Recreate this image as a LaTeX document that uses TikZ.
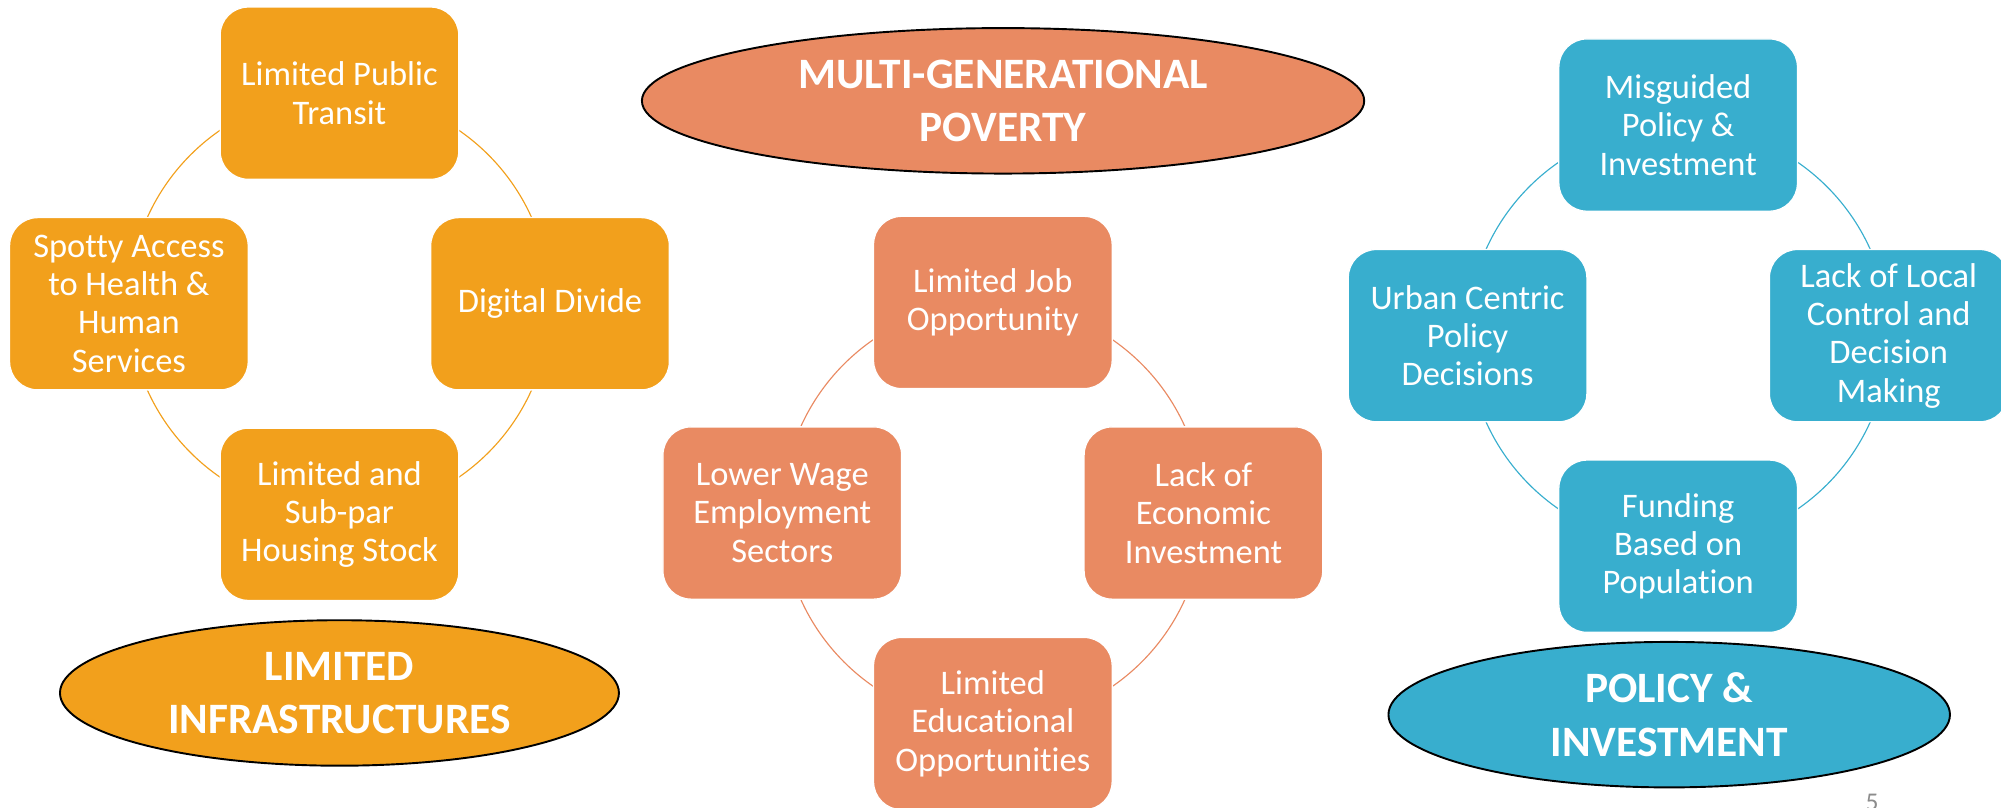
\documentclass[tikz,border=0pt]{standalone}
\usepackage{fontspec}
\setmainfont{Carlito}[Ligatures=CommonOff]
\usetikzlibrary{shapes.geometric}
\definecolor{infraorange}{RGB}{242,160,28}
\definecolor{povertysalmon}{RGB}{233,138,98}
\definecolor{policyblue}{RGB}{56,174,206}
\definecolor{pagegray}{RGB}{140,140,140}
\tikzset{
  cyclebox/.style={rectangle, rounded corners=22pt, minimum width=187pt, minimum height=135pt,
    inner sep=2pt, text=white, align=center, draw=white, line width=1pt,
    font=\fontsize{27}{30}\selectfont},
  cycleline/.style={line width=0.9pt},
  oval/.style={ellipse, draw=black, line width=1.5pt, minimum height=114pt, inner sep=0pt,
    text=white, align=center, font=\bfseries\fontsize{34}{42}\selectfont},
}

\begin{document}
\begin{tikzpicture}[x=1pt,y=-1pt]
          \useasboundingbox (0,0) rectangle (1568,633);
          \begin{scope}
            \coordinate (infracenter) at (266,238);
            \draw[cycleline,infraorange] (infracenter) circle[radius=165];
            \node[cyclebox,fill=infraorange] (transit) at (266,73) {Limited Public\\Transit};
            \node[cyclebox,fill=infraorange] (health) at (101,238) {Spotty Access\\to Health \&\\Human\\Services};
            \node[cyclebox,fill=infraorange] (digital) at (431,238) {Digital Divide};
            \node[cyclebox,fill=infraorange] (housing) at (266,403) {Limited and\\Sub-par\\Housing Stock};
            \node[oval,fill=infraorange,minimum width=438pt] (infra) at (266,543) {LIMITED\\INFRASTRUCTURES};
          \end{scope}
          \begin{scope}
            \coordinate (povertycenter) at (778,402);
            \draw[cycleline,povertysalmon] (povertycenter) circle[radius=165];
            \node[oval,fill=povertysalmon,minimum width=566pt] (poverty) at (786,79) {MULTI-GENERATIONAL\\POVERTY};
            \node[cyclebox,fill=povertysalmon] (job) at (778,237) {Limited Job\\Opportunity};
            \node[cyclebox,fill=povertysalmon] (wage) at (613,402) {Lower Wage\\Employment\\Sectors};
            \node[cyclebox,fill=povertysalmon] (economic) at (943,402) {Lack of\\Economic\\Investment};
            \node[cyclebox,fill=povertysalmon] (education) at (778,567) {Limited\\Educational\\Opportunities};
          \end{scope}
          \begin{scope}
            \coordinate (policycenter) at (1315,263);
            \draw[cycleline,policyblue] (policycenter) circle[radius=165];
            \node[cyclebox,fill=policyblue] (misguided) at (1315,98) {Misguided\\Policy \&\\Investment};
            \node[cyclebox,fill=policyblue] (urban) at (1150,263) {Urban Centric\\Policy\\Decisions};
            \node[cyclebox,fill=policyblue] (local) at (1480,263) {Lack of Local\\Control and\\Decision\\Making};
            \node[cyclebox,fill=policyblue] (funding) at (1315,428) {Funding\\Based on\\Population};
            \node[oval,fill=policyblue,minimum width=440pt] (policy) at (1308,560) {POLICY \&\\INVESTMENT};
          \end{scope}
          \node[anchor=north,text=pagegray,font=\fontsize{20}{24}\selectfont] (pagenum) at (1467,619) {5};
        \end{tikzpicture}
\end{document}
